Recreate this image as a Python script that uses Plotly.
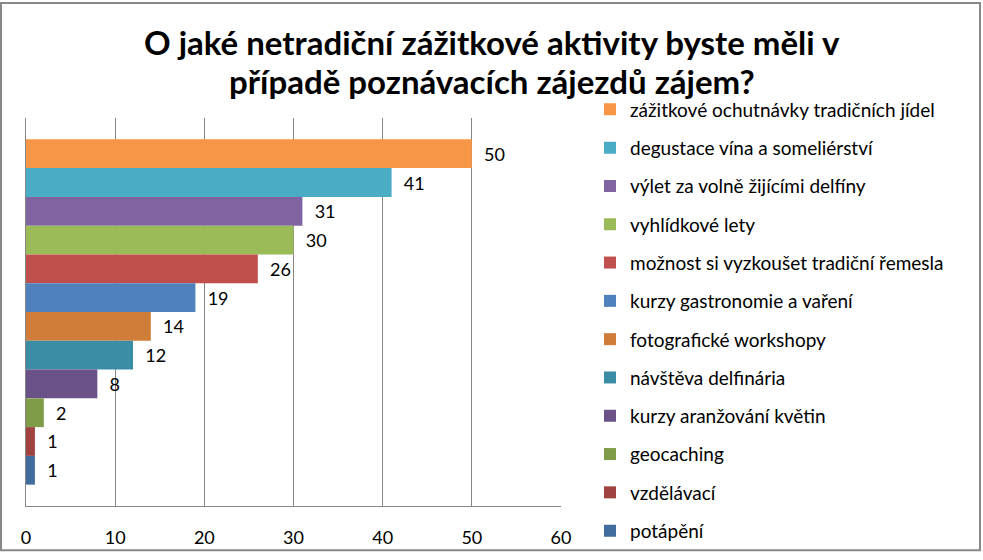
import plotly.graph_objects as go

categories = [
    "zážitkové ochutnávky tradičních jídel",
    "degustace vína a someliérství",
    "výlet za volně žijícími delfíny",
    "vyhlídkové lety",
    "možnost si vyzkoušet tradiční řemesla",
    "kurzy gastronomie a vaření",
    "fotografické workshopy",
    "návštěva delfinária",
    "kurzy aranžování květin",
    "geocaching",
    "vzdělávací",
    "potápění",
]
values = [50, 41, 31, 30, 26, 19, 14, 12, 8, 2, 1, 1]
colors = ["#F79646", "#4BACC6", "#8064A2", "#9BBB59", "#C0504D", "#4F81BD",
          "#D07D3A", "#3A8DA4", "#6A5188", "#7F9C48", "#9F4240", "#416C9E"]
x_ticks = [0, 10, 20, 30, 40, 50, 60]
title_lines = ["O jaké netradiční zážitkové aktivity byste měli v",
               "případě poznávacích zájezdů zájem?"]

W, H = 983, 560
ML, MR, MT, MB = 26, 422, 118, 47
pw = W - ML - MR
ph = H - MT - MB


def py(px):
    """pixel row from top -> paper y"""
    return (H - MB - px) / ph


fig = go.Figure()
for i, (name, v, c) in enumerate(zip(categories, values, colors)):
    fig.add_trace(go.Bar(
        x=[v], y=[""], orientation="h", name=name,
        marker=dict(color=c, line=dict(width=0)),
        text=[v], texttemplate="  %{x}", textposition="outside",
        textfont=dict(size=18, color="#000000", family="Lato"),
        cliponaxis=False, legendgroup=f"g{i}",
    ))

for line, ypx in zip(title_lines, [41, 80.5]):
    fig.add_annotation(
        text=line, xref="paper", yref="paper",
        x=(W / 2 - ML) / pw, y=py(ypx), xanchor="center", yanchor="middle",
        showarrow=False,
        font=dict(size=33, family="Lato", color="#000000", weight="bold"),
    )

fig.update_layout(
    width=W, height=H,
    margin=dict(l=ML, r=MR, t=MT, b=MB),
    barmode="group", bargap=0.11, bargroupgap=0,
    paper_bgcolor="white", plot_bgcolor="white",
    font=dict(family="Lato", color="#000000"),
    xaxis=dict(
        range=[0, 60], tickvals=x_ticks, showgrid=True, gridcolor="#868686",
        gridwidth=1, zeroline=False, showline=True, linecolor="#868686",
        linewidth=1, mirror=False, ticks="", tickfont=dict(size=18),
        ticklabelstandoff=15, fixedrange=True,
    ),
    yaxis=dict(
        autorange="reversed", showticklabels=False, showline=True,
        linecolor="#868686", linewidth=1, ticks="", showgrid=False,
    ),
    legend=dict(
        x=(590 - ML) / pw, xanchor="left",
        y=py(90), yanchor="top",
        font=dict(size=19, family="Lato"),
        tracegroupgap=10.6, itemwidth=30, bgcolor="rgba(0,0,0,0)",
        maxheight=2000,
    ),
    showlegend=True,
)

fig.add_shape(
    type="rect", xref="paper", yref="paper",
    x0=(1 - ML) / pw, x1=(980 - ML) / pw,
    y0=py(558), y1=py(1),
    line=dict(color="#888888", width=2), fillcolor="rgba(0,0,0,0)", layer="above",
)

fig.write_html(
    "out.html",
    config={"displayModeBar": False},
    post_script="document.body.style.margin='0';document.body.style.overflow='hidden';",
)
